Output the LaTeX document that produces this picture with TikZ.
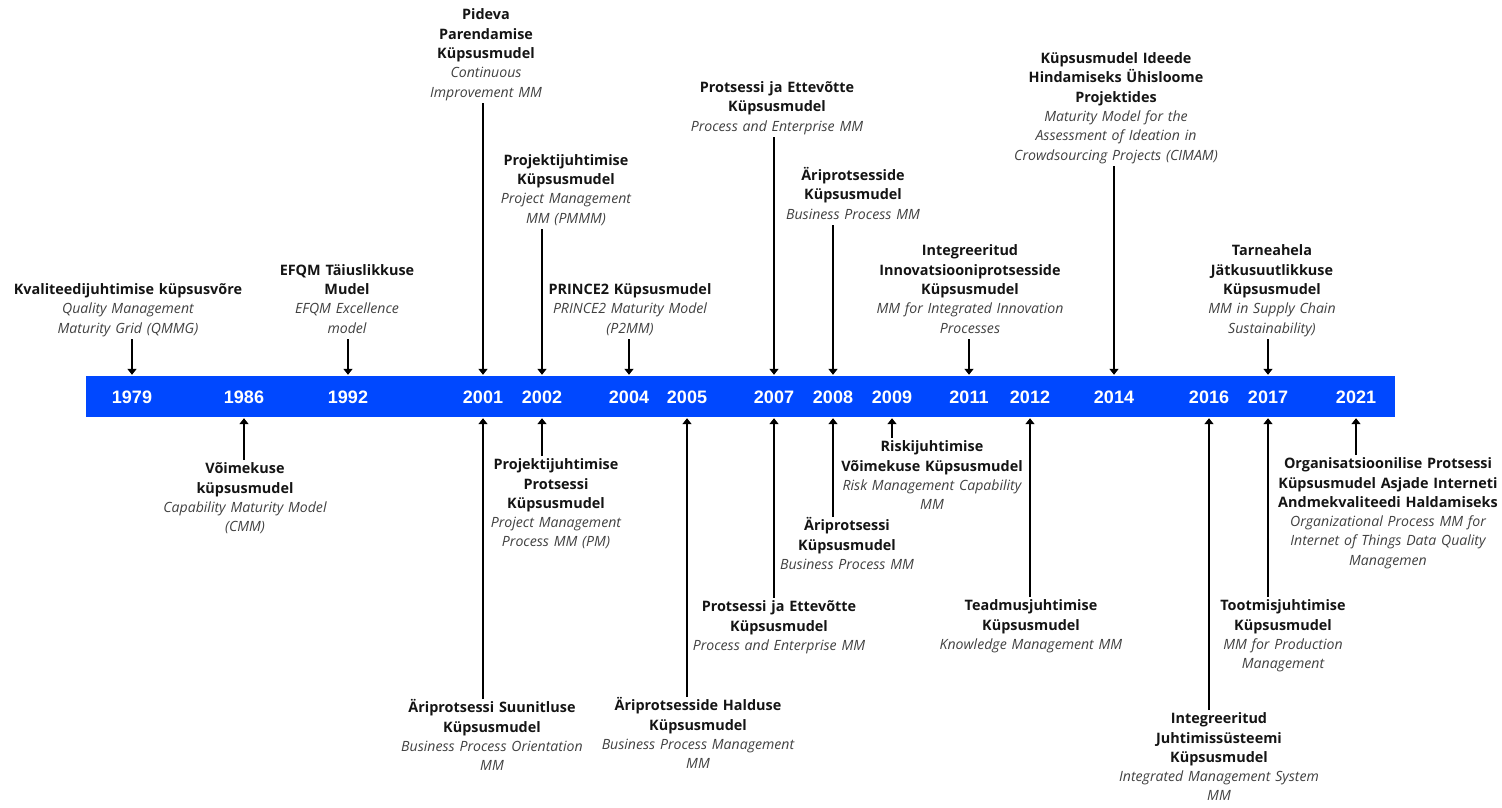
\documentclass[tikz,border=0pt]{standalone}
\usepackage{fontspec}
\setmainfont{Open Sans}
\newfontfamily\yearfont{Liberation Sans}
\usepackage{xcolor}
\usetikzlibrary{arrows.meta,positioning}
\definecolor{barblue}{RGB}{0,72,255}
\definecolor{subgray}{RGB}{64,64,64}
\definecolor{headblack}{RGB}{20,20,20}

\newcommand{\entry}[2]{\strut{\bfseries #1}\\{\itshape\fontsize{14.1}{19.3}\selectfont\color{subgray}#2}\strut}

\begin{document}
\begin{tikzpicture}[x=1pt, y=-1pt,
  lbl/.style={text width=270pt, align=center, inner sep=0pt, text=headblack,
    font=\fontsize{14.4}{19.3}\selectfont},
  yr/.style={text=white, font=\yearfont\bfseries\fontsize{18}{20}\selectfont, inner sep=0pt},
  arr/.style={line width=2pt, -{Triangle[length=6pt,width=9pt]}, shorten >=1pt}]

\useasboundingbox (0,0) rectangle (1502,808);

% Timeline bar
\node[fill=barblue, minimum width=1309pt, minimum height=41pt, inner sep=0pt] (bar) at (740.5,396.5) {};

% Years
\foreach \x/\yr in {132/1979, 244/1986, 348/1992, 483/2001, 542/2002, 629/2004, 687/2005,
  774/2007, 833/2008, 892/2009, 969/2011, 1030/2012, 1114/2014, 1209/2016, 1268/2017, 1356/2021}
  \node[yr] (y\yr) at (\x,397) {\yr};

% Models above the bar
\node[lbl, anchor=south] (t1979) at (128,339) {\entry{Kvaliteedijuhtimise küpsusvõre}{Quality Management\\Maturity Grid (QMMG)}};
\node[lbl, anchor=south] (t1992) at (347,339) {\entry{EFQM Täiuslikkuse\\Mudel}{EFQM Excellence\\model}};
\node[lbl, anchor=south] (t2001) at (486,103) {\entry{Pideva\\Parendamise\\Küpsusmudel}{Continuous\\Improvement MM}};
\node[lbl, anchor=south] (t2002) at (566,229) {\entry{Projektijuhtimise\\Küpsusmudel}{Project Management\\MM (PMMM)}};
\node[lbl, anchor=south] (t2004) at (630,339) {\entry{PRINCE2 Küpsusmudel}{PRINCE2 Maturity Model\\(P2MM)}};
\node[lbl, anchor=south] (t2007) at (777,137) {\entry{Protsessi ja Ettevõtte\\Küpsusmudel}{Process and Enterprise MM}};
\node[lbl, anchor=south] (t2008) at (853,225) {\entry{Äriprotsesside\\Küpsusmudel}{Business Process MM}};
\node[lbl, anchor=south] (t2011) at (970,339) {\entry{Integreeritud\\Innovatsiooniprotsesside\\Küpsusmudel}{MM for Integrated Innovation\\Processes}};
\node[lbl, anchor=south] (t2014) at (1116,166) {\entry{Küpsusmudel Ideede\\Hindamiseks Ühisloome\\Projektides}{Maturity Model for the\\Assessment of Ideation in\\Crowdsourcing Projects (CIMAM)}};
\node[lbl, anchor=south] (t2017) at (1272,339) {\entry{Tarneahela\\Jätkusuutlikkuse\\Küpsusmudel}{MM in Supply Chain\\Sustainability)}};

% Models below the bar
\node[lbl, anchor=north] (b1986) at (245,460) {\entry{Võimekuse\\küpsusmudel}{Capability Maturity Model\\(CMM)}};
\node[lbl, anchor=north] (b2001) at (492,699) {\entry{Äriprotsessi Suunitluse\\Küpsusmudel}{Business Process Orientation\\MM}};
\node[lbl, anchor=north] (b2002) at (556,456) {\entry{Projektijuhtimise\\Protsessi\\Küpsusmudel}{Project Management\\Process MM (PM)}};
\node[lbl, anchor=north] (b2005) at (698,697) {\entry{Äriprotsesside Halduse\\Küpsusmudel}{Business Process Management\\MM}};
\node[lbl, anchor=north] (b2007) at (779,598) {\entry{Protsessi ja Ettevõtte\\Küpsusmudel}{Process and Enterprise MM}};
\node[lbl, anchor=north] (b2008) at (847,517) {\entry{Äriprotsessi\\Küpsusmudel}{Business Process MM}};
\node[lbl, anchor=north] (b2009) at (932,438) {\entry{Riskijuhtimise\\Võimekuse Küpsusmudel}{Risk Management Capability\\MM}};
\node[lbl, anchor=north] (b2012) at (1031,597) {\entry{Teadmusjuhtimise\\Küpsusmudel}{Knowledge Management MM}};
\node[lbl, anchor=north] (b2016) at (1219,710) {\entry{Integreeritud\\Juhtimissüsteemi\\Küpsusmudel}{Integrated Management System\\MM}};
\node[lbl, anchor=north] (b2017) at (1283,597) {\entry{Tootmisjuhtimise\\Küpsusmudel}{MM for Production\\Management}};
\node[lbl, anchor=north] (b2021) at (1388,455) {\entry{Organisatsioonilise Protsessi\\Küpsusmudel Asjade Interneti\\Andmekvaliteedi Haldamiseks}{Organizational Process MM for\\Internet of Things Data Quality\\Managemen}};

% Arrows down to the bar
\foreach \yr in {1979,1992,2001,2002,2004,2007,2008,2011,2014,2017}
  \draw[arr] (t\yr.south -| y\yr) -- (y\yr |- bar.north);

% Arrows up to the bar
\foreach \yr in {1986,2001,2002,2005,2007,2008,2009,2012,2016,2017,2021}
  \draw[arr] (b\yr.north -| y\yr) -- (y\yr |- bar.south);

\end{tikzpicture}
\end{document}
